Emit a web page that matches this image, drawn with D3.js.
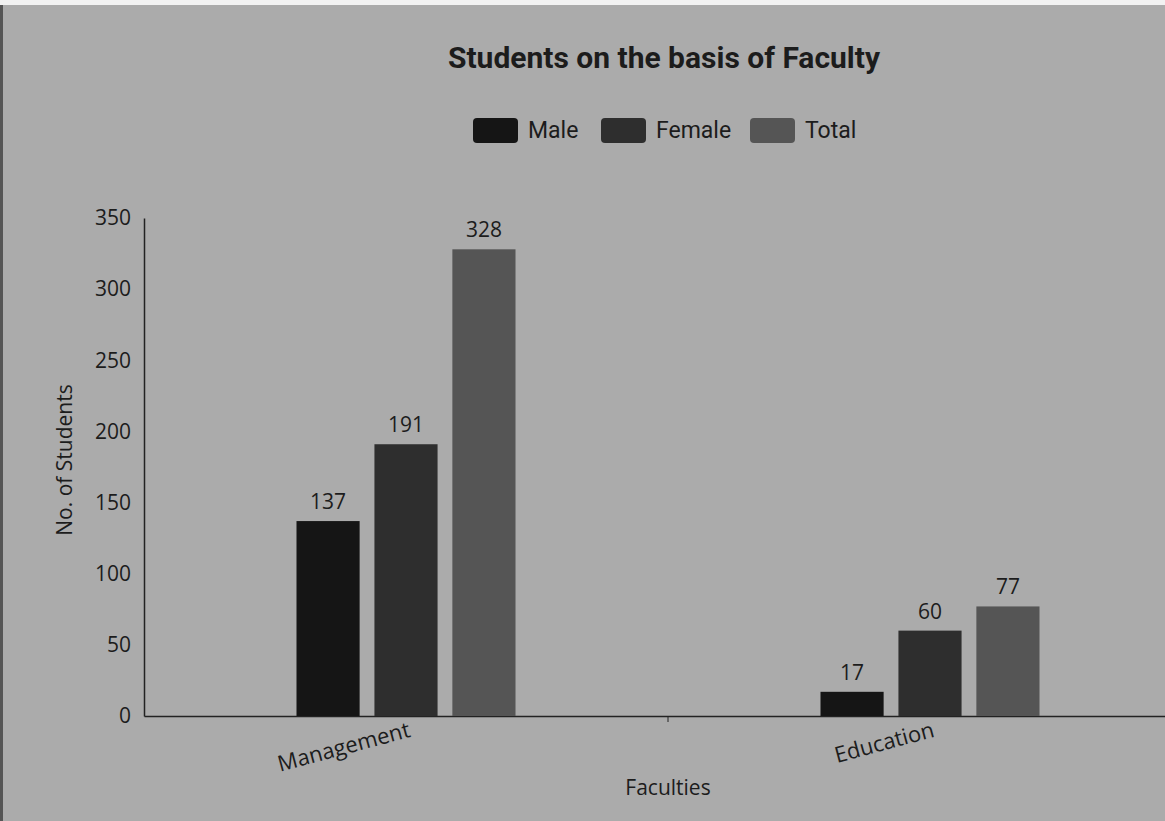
<!DOCTYPE html>
<html>
<head>
<meta charset="utf-8">
<script src="https://cdn.jsdelivr.net/npm/d3@7"></script>
<style>
  body { margin: 0; background: #ababab; }
  text { font-family: "Open Sans", sans-serif; fill: #1c1c1c; }
</style>
</head>
<body>
<div class="chart"></div>
<script>
// data
let faculties = ["Management", "Education"];
let seriesNames = ["Male", "Female", "Total"];
let male = [137, 17];
let female = [191, 60];
let total = [328, 77];
let yTicks = [0, 50, 100, 150, 200, 250, 300, 350];

let colors = ["#151515", "#2e2e2e", "#555555"];
let values = [male, female, total];

let svgWidth = 1165;
let svgHeight = 821;
let margin = { top: 218, left: 144, bottom: 105 };
let plotWidth = 1048;
let plotHeight = svgHeight - margin.top - margin.bottom;

let svg = d3.select(".chart").append("svg")
  .attr("width", svgWidth)
  .attr("height", svgHeight);

svg.append("rect").attr("width", svgWidth).attr("height", svgHeight).attr("fill", "#ababab");
// scan edges
svg.append("rect").attr("width", svgWidth).attr("height", 5).attr("fill", "#f2f2f2");
svg.append("rect").attr("y", 5).attr("width", 3).attr("height", svgHeight).attr("fill", "#555");

let chart = svg.append("g").attr("transform", `translate(${margin.left},${margin.top})`);

let x0 = d3.scaleBand().domain(faculties).range([0, plotWidth]);
let x1 = d3.scaleBand().domain(seriesNames).range([0, 219]).paddingInner(0.19);
let y = d3.scaleLinear().domain([0, 350]).range([plotHeight, 0]);

// y axis
let yAxis = chart.append("g").call(d3.axisLeft(y).tickValues(yTicks).tickSize(0).tickPadding(13));
yAxis.select(".domain").attr("stroke", "#222").attr("stroke-width", 1.5);
yAxis.selectAll("text").style("font-size", "21px").attr("fill", "#2a2a2a");

// x axis
let xAxis = chart.append("g").attr("transform", `translate(0,${plotHeight})`)
  .call(d3.axisBottom(x0).tickSize(0).tickPadding(8));
xAxis.select(".domain").attr("stroke", "#222").attr("stroke-width", 1.5);
xAxis.selectAll("text")
  .style("font-size", "22px")
  .attr("fill", "#2a2a2a")
  .attr("text-anchor", "end")
  .attr("dx", "0em")
  .attr("dy", "0.6em")
  .attr("transform", "rotate(-15)");
// small tick between the two categories
chart.append("line")
  .attr("x1", x0.step()).attr("x2", x0.step())
  .attr("y1", plotHeight).attr("y2", plotHeight + 6)
  .attr("stroke", "#222");

// bars
let groups = chart.selectAll(".group")
  .data(faculties)
  .enter().append("g")
  .attr("transform", d => `translate(${x0(d) + x0.bandwidth() / 2 - 109.5},0)`);

groups.each(function(fac, fi) {
  let g = d3.select(this);
  seriesNames.forEach((s, si) => {
    let v = values[si][fi];
    g.append("rect")
      .attr("x", x1(s))
      .attr("y", y(v))
      .attr("width", x1.bandwidth())
      .attr("height", plotHeight - y(v))
      .attr("fill", colors[si]);
    g.append("text")
      .attr("x", x1(s) + x1.bandwidth() / 2)
      .attr("y", y(v) - 12)
      .attr("text-anchor", "middle")
      .style("font-size", "21px")
      .text(v);
  });
});

// axis titles
svg.append("text")
  .attr("transform", `translate(72,${460})rotate(-90)`)
  .attr("text-anchor", "middle")
  .style("font-size", "21px")
  .attr("fill", "#333")
  .text("No. of Students");

svg.append("text")
  .attr("x", 668).attr("y", 795)
  .attr("text-anchor", "middle")
  .style("font-size", "21px")
  .attr("fill", "#333")
  .text("Faculties");

// title
svg.append("text")
  .attr("x", 664).attr("y", 68)
  .attr("text-anchor", "middle")
  .style("font-family", "Roboto, sans-serif")
  .style("font-weight", "bold")
  .style("font-size", "30px")
  .text("Students on the basis of Faculty");

// legend
let legendX = [473, 601, 750];
let legend = svg.selectAll(".legend")
  .data(seriesNames)
  .enter().append("g")
  .attr("transform", (d, i) => `translate(${legendX[i]},118)`);
legend.append("rect")
  .attr("width", 45).attr("height", 25).attr("rx", 4)
  .attr("fill", (d, i) => colors[i]);
legend.append("text")
  .attr("x", 55).attr("y", 20)
  .style("font-family", "Roboto, sans-serif")
  .style("font-size", "23px")
  .text(d => d);
</script>
</body>
</html>
